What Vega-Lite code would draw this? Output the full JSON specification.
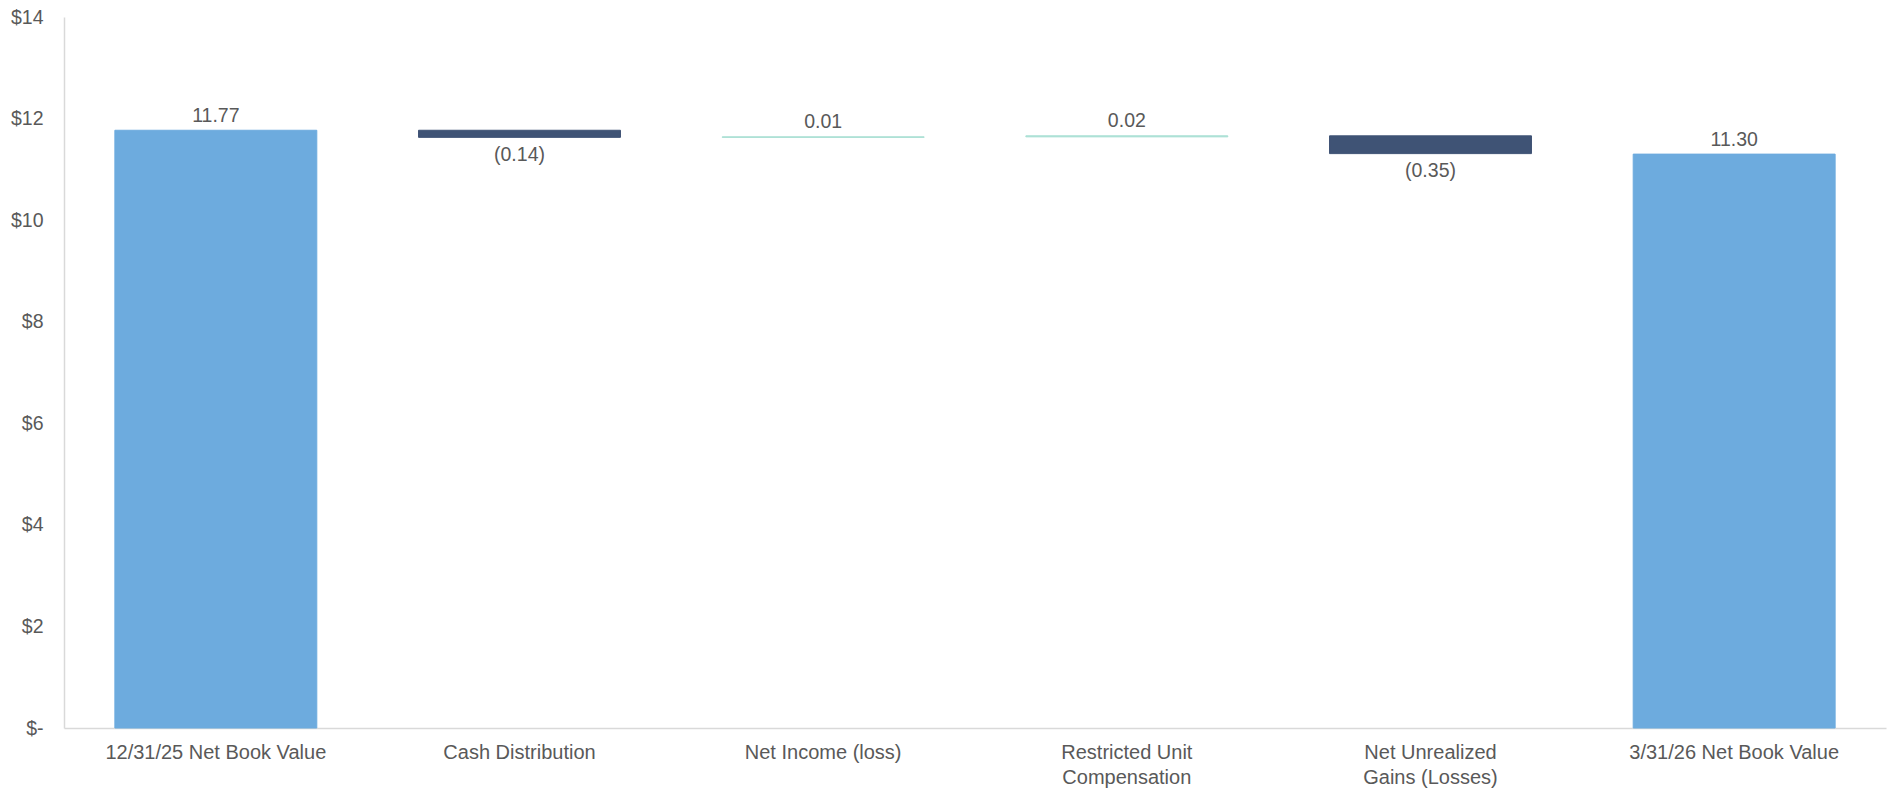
{
  "$schema": "https://vega.github.io/schema/vega-lite/v6.json",
  "autosize": {"type": "none"},
  "width": 1822,
  "height": 711,
  "padding": {"left": 64, "top": 17, "right": 8, "bottom": 63},
  "background": "#ffffff",
  "config": {
    "view": {"stroke": null},
    "font": "Liberation Sans",
    "text": {"font": "Liberation Sans"}
  },
  "data": {
    "values": [
      {"category": "12/31/25 Net Book Value", "value": 11.77, "start": 0, "end": 11.77, "kind": "total"},
      {"category": "Cash Distribution", "value": -0.14, "start": 11.77, "end": 11.63, "kind": "decrease"},
      {"category": "Net Income (loss)", "value": 0.01, "start": 11.63, "end": 11.64, "kind": "increase"},
      {"category": "Restricted Unit\nCompensation", "value": 0.02, "start": 11.64, "end": 11.66, "kind": "increase"},
      {"category": "Net Unrealized\nGains (Losses)", "value": -0.35, "start": 11.66, "end": 11.31, "kind": "decrease"},
      {"category": "3/31/26 Net Book Value", "value": 11.30, "start": 0, "end": 11.30, "kind": "total"}
    ]
  },
  "transform": [
    {"calculate": "datum.value < 0 ? '(' + format(-datum.value, '.2f') + ')' : format(datum.value, '.2f')", "as": "valueText"}
  ],
  "encoding": {
    "x": {
      "field": "category",
      "type": "nominal",
      "sort": null,
      "scale": {"paddingInner": 0.335, "paddingOuter": 0.1675},
      "axis": {
        "title": null,
        "labelAngle": 0,
        "labelExpr": "split(datum.label, '\\n')",
        "labelFontSize": 20,
        "labelColor": "#595959",
        "labelLineHeight": 25,
        "labelPadding": 14,
        "labelBaseline": "top",
        "ticks": false,
        "domainColor": "#D9D9D9",
        "domainWidth": 1.5,
        "labelLimit": 400
      }
    }
  },
  "layer": [
    {
      "mark": {"type": "bar", "strokeWidth": 1},
      "encoding": {
        "y": {
          "field": "start",
          "type": "quantitative",
          "scale": {"domain": [0, 14], "nice": false, "zero": true},
          "axis": {
            "title": null,
            "values": [0, 2, 4, 6, 8, 10, 12, 14],
            "labelExpr": "datum.value === 0 ? '$-' : '$' + datum.value",
            "labelFontSize": 19.5,
            "labelColor": "#595959",
            "labelPadding": 21,
            "ticks": false,
            "grid": false,
            "domainColor": "#D9D9D9",
            "domainWidth": 1.5
          }
        },
        "y2": {"field": "end"},
        "color": {
          "field": "kind",
          "type": "nominal",
          "scale": {
            "domain": ["total", "decrease", "increase"],
            "range": ["#6DABDE", "#3F5375", "#A8DFD3"]
          },
          "legend": null
        },
        "stroke": {
          "field": "kind",
          "type": "nominal",
          "scale": {
            "domain": ["total", "decrease", "increase"],
            "range": ["#6DABDE", "#3F5375", "#A8DFD3"]
          },
          "legend": null
        }
      }
    },
    {
      "transform": [{"filter": "datum.kind !== 'decrease'"}],
      "mark": {"type": "text", "baseline": "alphabetic", "dy": -8.5, "fontSize": 19.5, "color": "#595959"},
      "encoding": {
        "y": {"field": "end", "type": "quantitative"},
        "text": {"field": "valueText"}
      }
    },
    {
      "transform": [{"filter": "datum.kind === 'decrease'"}],
      "mark": {"type": "text", "baseline": "alphabetic", "dy": 23.5, "fontSize": 19.5, "color": "#595959"},
      "encoding": {
        "y": {"field": "end", "type": "quantitative"},
        "text": {"field": "valueText"}
      }
    }
  ]
}
